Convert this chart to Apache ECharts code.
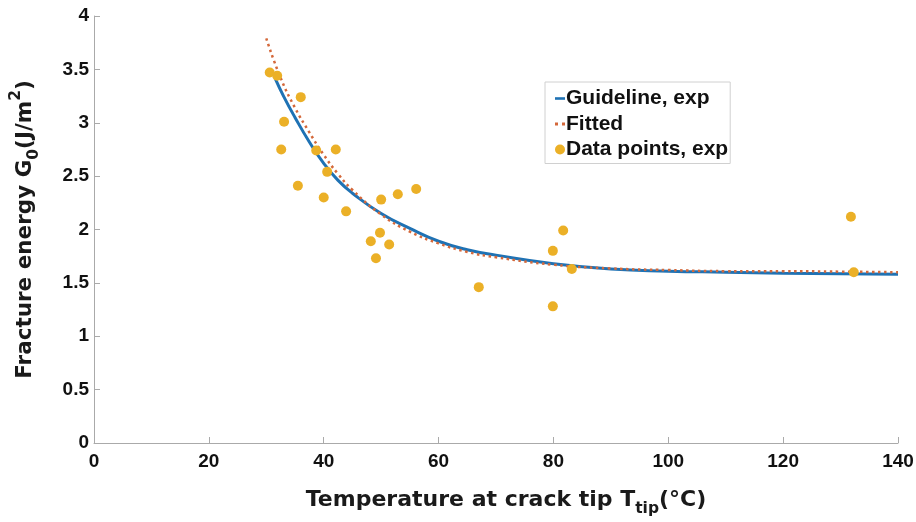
<!DOCTYPE html>
<html>
<head>
<meta charset="utf-8">
<script src="https://cdn.jsdelivr.net/npm/echarts@6/dist/echarts.min.js"></script>
<style>
html,body{margin:0;padding:0;background:#fff;}
#chart{width:916px;height:522px;}
</style>
</head>
<body>
<div id="chart"></div>
<script>
// Data points (temperature °C, fracture energy J/m^2)
var pointsT = [30.6, 31.9, 33.1, 32.6, 36.0, 35.5, 38.7, 42.1, 40.6, 40.0, 43.9, 50.0, 52.9, 56.1, 48.2, 49.8, 49.1, 51.4, 67.0, 79.9, 81.7, 83.2, 79.9, 131.8, 132.3];
var pointsG = [3.47, 3.44, 3.01, 2.75, 3.24, 2.41, 2.74, 2.75, 2.54, 2.30, 2.17, 2.28, 2.33, 2.38, 1.89, 1.97, 1.73, 1.86, 1.46, 1.80, 1.99, 1.63, 1.28, 2.12, 1.60];
// Guideline curve
var guideT = [31.5, 33, 35, 37.5, 40, 42.5, 45, 50, 55, 60, 65, 70, 80, 90, 100, 110, 120, 130, 140];
var guideG = [3.42, 3.25, 3.05, 2.82, 2.62, 2.46, 2.34, 2.15, 2.01, 1.89, 1.81, 1.76, 1.68, 1.63, 1.61, 1.60, 1.59, 1.585, 1.58];
// Fitted curve
var fitT = [30, 32.5, 35, 37.5, 40, 42.5, 45, 50, 55, 60, 65, 70, 80, 90, 100, 110, 120, 130, 140];
var fitG = [3.79, 3.42, 3.14, 2.91, 2.70, 2.52, 2.37, 2.14, 1.98, 1.87, 1.79, 1.74, 1.67, 1.635, 1.62, 1.61, 1.61, 1.605, 1.60];
// Axis ticks
var xTicks = [0, 20, 40, 60, 80, 100, 120, 140];
var yTicks = [0, 0.5, 1, 1.5, 2, 2.5, 3, 3.5, 4];

function zip(a, b) { return a.map(function (v, i) { return [v, b[i]]; }); }

var FONT = '"Liberation Sans", Arial, sans-serif';
var TFONT = '"DejaVu Sans", sans-serif';
var BLUE = '#1f72b4', ORANGE = '#d4683a', YELLOW = '#ebb027';

function titleRich(size) {
  return {
    b: {fontFamily: TFONT, fontWeight: 'bold', fontSize: size, color: '#1a1a1a', lineHeight: 34, verticalAlign: 'middle'},
    sub: {fontFamily: TFONT, fontWeight: 'bold', fontSize: 15.5, color: '#1a1a1a', lineHeight: 14, verticalAlign: 'bottom'},
    sup: {fontFamily: TFONT, fontWeight: 'bold', fontSize: 15.5, color: '#1a1a1a', lineHeight: 14, verticalAlign: 'top'}
  };
}

var chart = echarts.init(document.getElementById('chart'), null, {renderer: 'canvas'});
chart.setOption({
  animation: false,
  backgroundColor: '#fff',
  grid: {left: 94, right: 18, top: 16, bottom: 79, containLabel: false, outerBoundsMode: 'none'},
  legend: {
    orient: 'vertical',
    left: 545, top: 82,
    padding: [6, 2, 3.5, 10],
    itemGap: 4.5,
    itemWidth: 10, itemHeight: 10,
    symbolKeepAspect: true,
    borderColor: '#d0d0d0', borderWidth: 1,
    backgroundColor: '#fff',
    textStyle: {fontFamily: FONT, fontWeight: 'bold', fontSize: 21, lineHeight: 21, color: '#111', padding: [0, 0, 0, -4]},
    data: [
      {name: 'Guideline, exp', icon: 'path://M0,0H10V2.6H0Z', itemStyle: {color: BLUE}},
      {name: 'Fitted', icon: 'path://M0,0H3V3H0Z M7,0H10V3H7Z', itemStyle: {color: ORANGE}},
      {name: 'Data points, exp', icon: 'circle', itemStyle: {color: YELLOW}}
    ]
  },
  xAxis: {
    type: 'value', min: 0, max: 140, interval: 20,
    name: '{b|Temperature at crack tip T}{sub|tip}{b|(°C)}',
    nameLocation: 'middle', nameGap: 40,
    nameTextStyle: {rich: titleRich(22), padding: [0, 0, 0, 20]},
    axisLine: {show: true, onZero: false, lineStyle: {color: '#aaa', width: 1}},
    axisTick: {show: true, inside: true, length: 6, lineStyle: {color: '#aaa'}},
    splitLine: {show: false},
    axisLabel: {fontFamily: FONT, fontWeight: 'bold', fontSize: 19, color: '#111', margin: 9,
      formatter: function (v) { return xTicks.indexOf(v) >= 0 ? String(v) : ''; }}
  },
  yAxis: {
    type: 'value', min: 0, max: 4, interval: 0.5,
    name: '{b|Fracture energy G}{sub|0}{b|(J/m}{sup|2}{b|)}',
    nameLocation: 'middle', nameGap: 52, nameRotate: 90,
    nameTextStyle: {rich: titleRich(21.5)},
    axisLine: {show: true, onZero: false, lineStyle: {color: '#aaa', width: 1}},
    axisTick: {show: true, inside: true, length: 6, lineStyle: {color: '#aaa'}},
    splitLine: {show: false},
    axisLabel: {fontFamily: FONT, fontWeight: 'bold', fontSize: 19, color: '#111', margin: 5,
      formatter: function (v) { return yTicks.indexOf(v) >= 0 ? String(v) : ''; }}
  },
  series: [
    {
      name: 'Guideline, exp', type: 'line', smooth: true, showSymbol: false, symbol: 'none',
      data: zip(guideT, guideG), z: 2,
      lineStyle: {color: BLUE, width: 3},
      itemStyle: {color: BLUE}
    },
    {
      name: 'Fitted', type: 'line', smooth: true, showSymbol: false, symbol: 'none',
      data: zip(fitT, fitG), z: 3,
      lineStyle: {color: ORANGE, width: 2.5, type: [2.5, 3.5]},
      itemStyle: {color: ORANGE}
    },
    {
      name: 'Data points, exp', type: 'scatter', symbol: 'circle', symbolSize: 10,
      data: zip(pointsT, pointsG), z: 4,
      itemStyle: {color: YELLOW, opacity: 1}
    }
  ]
});
</script>
</body>
</html>
